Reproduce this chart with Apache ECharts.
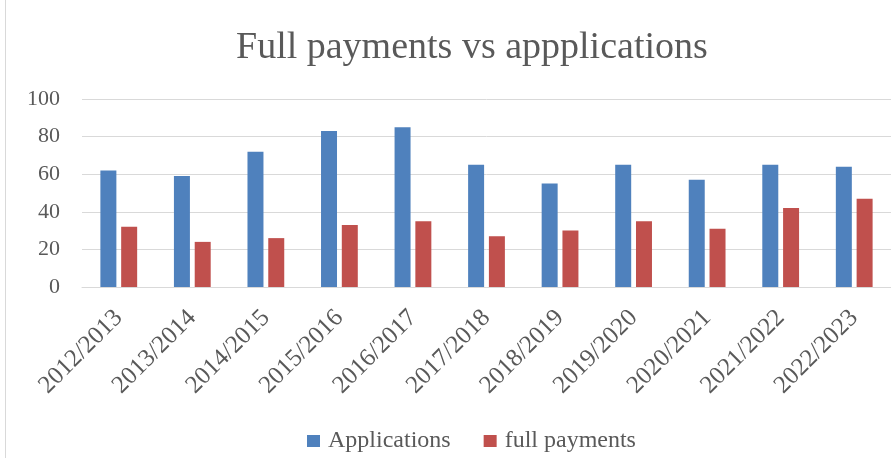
<!DOCTYPE html>
<html lang="en">
<head>
    <meta charset="UTF-8">
    <title>Full payments vs appplications</title>
    <script src="https://cdn.jsdelivr.net/npm/echarts@6/dist/echarts.min.js"></script>
    <style>
        html, body { margin: 0; padding: 0; background: #fff; }
    </style>
</head>
<body>
    <div id="main" style="width: 891px;height:458px;"></div>
    <script type="text/javascript">
        // data
        var years = ['2012/2013', '2013/2014', '2014/2015', '2015/2016', '2016/2017', '2017/2018',
                     '2018/2019', '2019/2020', '2020/2021', '2021/2022', '2022/2023'];
        var applications = [62, 59, 72, 83, 85, 65, 55, 65, 57, 65, 64];
        var fullPayments = [32, 24, 26, 33, 35, 27, 30, 35, 31, 42, 47];

        var serif = '"Liberation Serif", "DejaVu Serif", serif';
        var grey = '#595959';

        var myChart = echarts.init(document.getElementById('main'));

        // the original chart is wider than the picture (cut on the right),
        // so title and legend sit a bit right of the visible centre
        var option = {
            animation: false,
            title: {
                text: 'Full payments vs appplications',
                left: 231,
                top: 24,
                textStyle: { fontFamily: serif, fontSize: 38, fontWeight: 'normal', color: grey }
            },
            legend: {
                data: ['Applications', 'full payments'],
                bottom: 0,
                left: 302,
                icon: 'rect',
                itemWidth: 13,
                itemHeight: 12,
                itemGap: 33,
                textStyle: { fontFamily: serif, fontSize: 24, color: grey, padding: [0, 0, 0, 3] }
            },
            graphic: [{
                type: 'line',
                shape: { x1: 5.5, y1: 0, x2: 5.5, y2: 458 },
                style: { stroke: '#d9d9d9', lineWidth: 1 }
            }],
            grid: { left: 82, right: -12, top: 99, bottom: 171, containLabel: false },
            xAxis: {
                type: 'category',
                data: years,
                axisTick: { show: false },
                axisLine: { lineStyle: { color: '#d9d9d9' } },
                axisLabel: { rotate: 45, margin: 27, fontFamily: serif, fontSize: 25, color: grey }
            },
            yAxis: {
                type: 'value',
                min: 0,
                max: 100,
                interval: 20,
                axisLine: { show: false },
                axisTick: { show: false },
                splitLine: { lineStyle: { color: '#d9d9d9' } },
                axisLabel: { margin: 22, fontFamily: serif, fontSize: 22, color: grey }
            },
            series: [
                {
                    name: 'Applications',
                    type: 'bar',
                    data: applications,
                    barGap: '30%',
                    barCategoryGap: '50%',
                    itemStyle: { color: '#4f81bd' }
                },
                {
                    name: 'full payments',
                    type: 'bar',
                    data: fullPayments,
                    itemStyle: { color: '#c0504d' }
                }
            ]
        };

        myChart.setOption(option);
    </script>
</body>
</html>
